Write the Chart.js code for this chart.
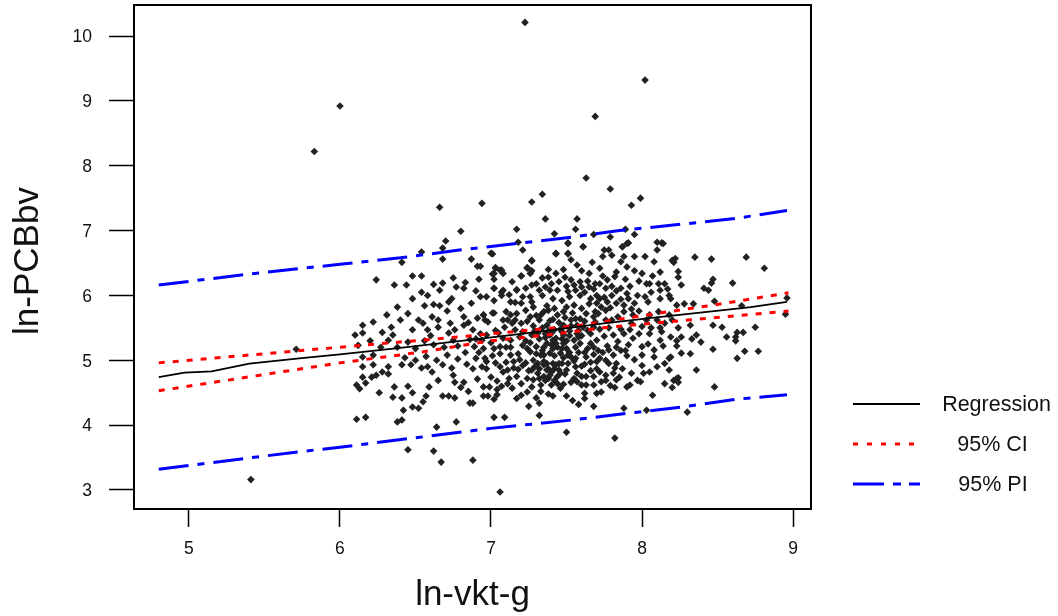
<!DOCTYPE html>
<html>
<head>
<meta charset="utf-8">
<style>
  html, body { margin: 0; padding: 0; background: #fff; }
</style>
<script src="https://cdn.jsdelivr.net/npm/chart.js@4"></script>
</head>
<body>
<canvas id="plot" width="1058" height="616"></canvas>
<script>
// values
var xTicks = [5, 6, 7, 8, 9];
var yTicks = [3, 4, 5, 6, 7, 8, 9, 10];

var regX = [4.8, 4.97, 5.15, 5.4, 5.73, 6.0, 6.4, 6.73, 7.06, 7.39, 7.72, 8.05, 8.4, 8.72, 8.96];
var regY = [4.74, 4.81, 4.83, 4.95, 5.03, 5.09, 5.19, 5.28, 5.37, 5.46, 5.56, 5.65, 5.74, 5.82, 5.9];

var ciUpperX = [4.8, 6.09, 6.64, 7.1, 7.59, 8.12, 8.47, 8.97];
var ciUpperY = [4.96, 5.22, 5.33, 5.43, 5.54, 5.73, 5.85, 6.04];
var ciLowerX = [4.8, 6.0, 6.55, 7.0, 7.37, 7.74, 8.3, 8.97];
var ciLowerY = [4.53, 4.96, 5.13, 5.3, 5.39, 5.5, 5.62, 5.76];

var piUpperX = [4.8, 5.4, 6.0, 6.4, 6.79, 7.54, 7.85, 8.27, 8.63, 8.96];
var piUpperY = [6.16, 6.33, 6.48, 6.58, 6.7, 6.9, 7.0, 7.1, 7.19, 7.31];
var piLowerX = [4.8, 5.73, 6.0, 7.0, 7.54, 7.97, 8.3, 8.63, 8.96];
var piLowerY = [3.32, 3.59, 3.66, 3.95, 4.08, 4.2, 4.29, 4.4, 4.47];

var legendLabels = ['Regression', '95% CI', '95% PI'];
var yAxisTitle = 'ln-PCBbv';

// outliers and the edge of the cloud, one by one
var edgePoints = [
  [7.225,10.21],[8.02,9.32],[6.0,8.92],[5.83,8.22],[7.69,8.76],[7.63,7.81],[7.79,7.64],[7.99,7.5],[7.93,7.39],
  [5.41,3.16],[7.06,2.97],[6.88,3.46],[6.67,3.43],[6.62,3.6],[6.45,3.62],[7.5,3.89],[7.82,3.8],[5.71,5.17],
  [6.66,7.36],[6.94,7.42],[6.8,6.99],[6.7,6.84],[6.68,6.73],[6.68,6.56],[6.54,6.67],[6.41,6.51],[6.24,6.24],
  [6.36,6.16],[6.44,6.16],[6.48,6.3],[6.54,6.3],[6.87,6.56],[6.91,6.45],[7.01,6.64],[7.17,7.02],[7.27,7.44],
  [7.34,7.56],[7.36,7.18],[7.18,6.82],[7.42,6.95],[7.57,7.18],[7.51,6.8],[7.43,6.64],[7.51,6.64],[7.27,6.53],
  [7.24,6.42],[7.2,6.3],[7.03,6.42],[7.01,6.33],[7.07,6.39],[6.83,6.2],[6.68,6.19],[6.77,6.13],[6.66,6.08],
  [6.58,6.0],[6.82,6.11],[7.02,6.11],[7.07,6.05],[7.17,6.08],[6.38,5.82],[6.56,5.84],[6.66,5.84],[6.15,5.54],
  [6.22,5.59],[6.1,5.39],[6.15,5.42],[6.34,5.51],[6.4,5.62],[6.35,5.39],[6.48,5.47],[6.55,5.57],[6.58,5.47],
  [6.61,5.67],[6.65,5.62],[6.65,5.51],[6.73,5.57],[6.76,5.47],[6.82,5.67],[6.82,5.54],[6.91,5.65],[6.95,5.7],
  [7.01,5.73],[6.32,5.31],[6.12,5.23],[6.15,5.05],[6.22,5.08],[6.15,4.9],[6.22,4.93],[6.32,4.9],[6.41,4.93],
  [6.47,4.93],[6.5,5.0],[6.64,5.0],[6.54,4.88],[6.61,4.82],[6.58,4.9],[6.74,4.88],[6.75,4.77],[6.65,4.69],
  [6.76,4.66],[6.82,4.66],[6.15,4.74],[6.21,4.74],[6.24,4.77],[6.28,4.82],[6.32,4.79],[6.11,4.62],[6.13,4.56],
  [6.17,4.65],[6.26,4.5],[6.36,4.59],[6.35,4.43],[6.41,4.42],[6.45,4.6],[6.48,4.5],[6.59,4.59],[6.57,4.45],
  [6.55,4.36],[6.68,4.45],[6.72,4.45],[6.76,4.42],[6.42,4.23],[6.48,4.28],[6.52,4.26],[6.86,4.34],[6.88,4.34],
  [6.11,4.09],[6.17,4.12],[6.38,4.05],[6.41,4.08],[6.77,4.05],[6.64,3.97],
  [7.56,7.02],[7.68,6.94],[7.79,6.9],[7.89,7.02],[7.95,6.94],[7.61,6.75],[7.9,6.8],[7.87,6.75],[7.75,6.7],
  [8.1,6.82],[8.14,6.8],[8.22,6.57],[8.21,6.51],
  [8.35,6.59],[8.46,6.56],[8.69,6.59],[8.81,6.42],[8.6,6.19],[8.47,6.25],[8.46,6.19],[8.41,6.11],[8.44,6.08],
  [8.26,6.16],[8.24,6.37],[8.24,6.28],[8.48,5.91],[8.28,5.87],[8.34,5.87],[8.96,5.96],[8.66,5.84],
  [8.95,5.71],[8.75,5.51],[8.53,5.51],[8.47,5.54],[8.32,5.54],[8.67,5.43],[8.63,5.43],[8.56,5.36],[8.62,5.36],
  [8.62,5.3],[8.36,5.39],[8.33,5.33],[8.39,5.28],[8.26,5.36],[8.47,5.17],[8.68,5.14],
  [8.77,5.14],[8.63,5.03],[8.26,5.11],[8.32,5.1],[8.23,5.22],
  [8.36,4.85],[8.24,4.73],[8.21,4.69],[8.24,4.66],[8.48,4.59],[8.3,4.2]
];

// left of the thick part
var leftPoints = [
  [6.86,5.32],[6.89,5.21],[6.92,5.12],[6.9,5.03],[6.88,4.87],[6.93,5.41],[6.9,5.33],[6.88,5.47],[6.85,5.58],
  [6.87,5.88],[6.8,5.8],[6.74,5.95],[6.71,5.76],[6.78,5.22],[6.83,5.12],[6.71,5.08],[6.78,5.02],[6.84,4.94],
  [6.8,4.58],[6.91,4.71],[6.85,4.52],[6.93,5.98],[6.9,6.07],[6.92,6.25],[6.75,6.27],[6.62,6.17],[6.54,6.05],
  [6.48,5.95],[6.72,5.9],[6.62,5.86],[6.28,5.43],[6.31,5.7],[6.45,5.72],[6.52,5.62],[6.6,5.38],[6.72,5.42],
  [6.68,4.93],[6.57,5.06],[6.43,5.04],[6.5,5.18],[6.2,5.3],[6.27,5.2],[6.38,5.2],[6.45,5.28],[6.56,5.3],
  [6.62,5.24],[6.69,5.2],[6.75,5.31]
];

// upper half of the thick part, x 6.9 to 8.25
var upperPoints = [
  [7.0,6.65],[7.21,6.7],[7.43,6.65],[7.51,6.81],[7.51,6.65],[7.61,6.75],[7.57,6.47],[7.53,6.55],[7.67,6.51],
  [7.74,6.6],[7.78,6.7],[7.8,6.62],[7.87,6.75],[7.91,6.81],[7.88,6.6],[7.86,6.52],[7.95,6.6],[8.02,6.6],
  [8.08,6.52],[8.13,6.81],[8.1,6.7],[8.2,6.54],[7.27,6.54],[7.24,6.43],[7.27,6.38],[7.26,6.34],[7.2,6.3],
  [7.03,6.43],[7.06,6.39],[7.08,6.34],[7.02,6.34],[7.02,6.25],[7.43,6.34],[7.38,6.28],[7.65,6.34],[7.69,6.18],
  [7.77,6.24],[7.83,6.36],[7.82,6.29],[7.89,6.25],[7.95,6.38],[8.0,6.34],[8.07,6.3],[6.93,6.45],[7.49,6.28],
  [7.53,6.24],[7.59,6.21],[7.4,6.18],[7.3,6.18],[7.27,6.16],[7.32,6.08],[7.17,6.09],[7.02,6.11],[7.08,6.08],
  [7.07,6.0],[6.97,5.98],[7.02,5.92],[7.13,5.9],[7.16,5.89],[7.21,5.98],[7.26,5.98],[7.34,6.0],[7.39,6.08],
  [7.44,6.08],[7.41,5.95],[7.51,6.06],[7.56,6.08],[7.6,6.13],[7.65,6.13],[7.72,6.18],[7.76,6.11],[7.7,6.0],
  [7.66,5.95],[7.59,6.0],[7.52,5.98],[7.86,6.11],[7.8,6.0],[7.9,6.03],[8.03,6.18],[8.05,6.18],[8.11,6.18],
  [8.15,6.18],[8.12,6.08],[8.18,6.0],[8.12,5.95],[7.97,6.0],[7.91,5.95],[7.83,5.88],[8.04,5.9],[7.95,5.88],
  [7.77,5.9],[7.73,5.82],[7.7,5.88],[7.76,5.77],[7.69,5.75],[7.63,5.72],[7.55,5.85],[7.5,5.82],[7.48,5.75],
  [7.38,5.77],[7.35,5.75],[7.28,5.82],[7.23,5.77],[7.17,5.72],[7.1,5.75],[7.02,5.73],[6.95,5.7],[7.11,5.62],
  [7.14,5.57],[7.2,5.57],[7.26,5.67],[7.32,5.62],[7.44,5.7],[7.53,5.62],[7.59,5.64],[7.68,5.67],[7.57,5.54],
  [7.48,5.54],[7.37,5.54],[7.28,5.53],[7.09,5.51],[6.96,5.62],[6.98,5.59],[8.11,5.75],[8.2,5.62],[8.05,5.7],
  [7.94,5.7],[7.84,5.67],[7.93,5.57],[7.88,5.75],[7.8,5.62],[7.76,5.62],[8.23,5.85],[8.19,5.95],[7.69,5.59],
  [7.68,5.51],[7.61,5.51],[8.15,5.57]
];

// lower half of the thick part
var lowerPoints = [
  [6.95,5.18],[7.02,5.18],[7.06,5.21],[7.13,5.08],[7.15,4.98],[7.23,4.96],[6.96,5.03],[7.03,4.96],[6.94,4.9],
  [6.97,4.87],[7.08,4.82],[7.11,4.85],[7.18,4.86],[7.17,4.75],[7.24,4.72],[7.2,4.64],[7.11,4.64],[7.04,4.68],
  [6.95,4.59],[6.99,4.59],[7.04,4.55],[7.14,4.57],[7.27,4.59],[7.24,4.51],[7.2,4.46],[7.17,4.41],[7.04,4.47],
  [7.02,4.4],[6.95,4.45],[6.98,4.45],[7.25,4.29],[7.32,4.34],[7.32,4.15],[7.02,4.12],[7.09,4.12],[7.38,4.48],
  [7.46,4.57],[7.54,4.38],[7.58,4.32],[7.68,4.29],[7.62,4.49],[7.62,4.41],[7.7,4.49],[7.73,4.51],[7.82,4.58],
  [7.9,4.59],[7.97,4.69],[7.99,4.67],[8.07,4.46],[7.88,4.26],[8.03,4.23],[7.57,4.67],[7.63,4.75],[7.68,4.75],
  [7.63,4.62],[7.68,4.62],[7.73,4.67],[7.76,4.69],[7.76,4.77],[7.7,4.87],[7.81,4.8],[7.87,4.87],[7.78,4.95],
  [7.83,4.95],[7.7,4.98],[7.72,5.03],[7.71,5.15],[7.78,5.16],[7.81,5.08],[7.86,5.15],[7.89,5.15],[8.0,5.08],
  [8.08,5.16],[8.08,5.05],[8.18,5.03],[8.19,5.05],[8.15,4.95],[8.18,4.85],[8.05,4.82],[8.01,4.8],[8.15,4.64],
  [8.2,4.58],[8.23,4.72],[7.92,4.62],[7.37,5.26],[7.41,5.31],[7.3,5.21],[7.26,5.13],[7.21,5.23],[7.31,4.95],
  [7.35,4.93],[7.38,4.87],[7.41,4.95],[7.45,4.85],[7.47,4.95],[7.31,4.8],[7.35,4.75],[7.38,4.72],[7.42,4.69],
  [7.4,4.62],[7.46,4.8],[7.51,4.95],[7.56,4.9],[7.57,4.8],[7.51,5.08],[7.46,5.11],[7.39,5.11],[7.35,5.08],
  [7.48,5.26],[7.55,5.31],[7.59,5.26],[7.66,5.26],[7.7,5.31],[7.81,5.39],[7.88,5.41],[7.94,5.34],[7.98,5.41],
  [8.05,5.41],[8.19,5.36],[8.13,5.44],[7.66,5.41],[7.57,5.41],[7.48,5.39],[7.39,5.39],[7.13,5.31],[7.08,5.34],
  [7.19,5.36],[6.97,5.39],[6.94,5.31],
  [7.32,4.87],[7.4,4.82],[7.37,4.95],[7.42,4.87],[7.32,4.72],[7.36,4.69],[7.45,4.95],[7.39,4.77],[7.37,4.85],
  [7.42,5.47],[7.36,5.35],[7.31,5.42],[7.47,5.33],[7.44,5.2],[7.52,5.45],[7.27,5.39],[7.56,5.2],[7.33,5.08],
  [7.5,5.18],[7.6,5.38],[7.62,5.12],[7.24,5.18],[7.16,5.47],[7.03,5.46],[7.1,5.2],[7.18,5.1],[7.4,5.42],
  [7.34,5.5],[7.45,5.58]
];

// marks hidden in the merged core, estimated
var corePoints = [
  [7.63,5.05],[7.66,4.97],[7.6,4.91],[7.74,5.12],[7.77,5.22],[7.83,5.2],[7.75,5.37],[7.84,5.29],[7.91,5.24],
  [7.64,5.18],[7.68,5.09],[7.58,5.12],[7.53,5.05],[7.55,4.99],[7.6,4.75],[7.55,4.72],[7.5,4.85],[7.53,4.66],
  [7.48,4.63],[7.44,4.75],[7.33,4.62],[7.28,4.7],[7.25,4.84],[7.21,4.92],[7.28,5.0],[7.34,5.15],[7.42,5.07],
  [7.48,5.04],[7.5,5.3],[7.43,5.26],[7.38,5.45],[7.32,5.33],[7.26,5.27],[7.21,5.44],[7.24,5.6],[7.3,5.69],
  [7.37,5.84],[7.42,5.8],[7.47,5.92],[7.54,5.73],[7.6,5.8],[7.65,5.87],[7.71,5.72],[7.75,5.97],[7.83,6.07],
  [7.88,5.85],[7.93,5.79],[7.98,5.76],[8.03,5.62],[8.1,5.62],[8.06,5.5],[8.12,5.31],[8.0,5.21],[7.95,5.01],
  [7.9,5.07],[7.93,4.8],[7.85,4.74],[7.79,4.61],[7.72,4.82],[7.66,4.84],[7.62,4.94],[7.56,5.03],[7.47,5.18],
  [7.41,5.63],[7.33,5.7],[7.27,5.9],[7.2,5.88],[7.13,5.7],[7.08,5.62],[7.05,5.42],[7.0,5.27],[7.06,5.1],
  [7.1,4.97],[7.15,4.88],[7.01,5.07],[7.06,4.9],[7.13,5.2],[7.19,5.01],[7.27,4.85],[7.23,5.3],[7.16,5.62],
  [7.36,6.13],[7.45,6.21],[7.55,6.16],[7.62,6.05],[7.68,6.1],[7.74,6.3],[7.8,6.14],[7.92,6.14],[7.98,6.22],
  [8.06,6.05],[8.17,6.1],[8.02,5.98],[7.86,5.94],[7.79,5.81],[7.72,5.95],[7.64,6.22],[7.5,6.14],[7.34,6.27],
  [7.14,6.21],[7.12,6.01],[7.23,6.11],[7.38,6.4],[7.48,6.4],[7.6,6.38],[7.72,6.42],[7.9,6.44],[8.12,6.36],
  [8.0,4.92],[8.1,4.9],[8.04,5.25],[8.14,5.22],[7.82,4.88],[7.76,5.0],[7.68,5.2],[7.58,5.36],[7.64,5.46],
  [7.72,5.48],[7.78,5.5],[7.86,5.48],[7.92,5.47],[8.0,5.52],[8.12,5.5],[8.18,5.7],[8.24,5.5],[8.23,5.3],
  [7.46,5.48],[7.39,5.61],[7.49,5.66],[7.53,5.53],[7.3,5.1],[7.35,5.2],[7.43,5.34],[7.41,5.18],[7.52,5.12],
  [7.58,5.46],[7.56,5.64],[7.62,5.6],[7.49,4.79],[7.43,4.93],[7.35,4.98],[7.29,4.9],[7.44,4.64],[7.33,4.52],
  [7.12,4.72],[7.3,4.42],[7.41,4.45],[7.5,4.45],[7.6,4.62],[7.83,4.7],[7.07,4.6],[7.0,4.74],[6.97,4.98],
  [7.52,5.38],[7.47,5.44],[7.36,5.41],[7.29,5.45],[7.4,5.24]
];

var scatterData = edgePoints.concat(leftPoints, upperPoints, lowerPoints, corePoints).map(function (p) {
  return { x: p[0], y: p[1] };
});

function zipLine(xs, ys) {
  return xs.map(function (x, i) { return { x: x, y: ys[i] }; });
}

var solid = [];
var ciDash = [6, 8];
var piDash = [30, 9, 7, 9];

function lineSet(label, data, color, width, dash) {
  return {
    type: 'line', label: label, data: data, borderColor: color, borderWidth: width,
    borderDash: dash, pointRadius: 0, fill: false, tension: 0, order: 0
  };
}

// frame round the plot, y title and the hand placed legend on the right
var framePlugin = {
  id: 'frameAndLegend',
  afterDraw: function (chart) {
    var ctx = chart.ctx, a = chart.chartArea;
    ctx.save();
    ctx.strokeStyle = '#000';
    ctx.lineWidth = 2;
    ctx.strokeRect(a.left, a.top, a.right - a.left, a.bottom - a.top);

    ctx.save();
    ctx.translate(28, 261);
    ctx.rotate(-Math.PI / 2);
    ctx.font = '35px "Liberation Sans"';
    ctx.fillStyle = '#111';
    ctx.textAlign = 'center';
    ctx.textBaseline = 'middle';
    ctx.fillText(yAxisTitle, 0, 0);
    ctx.restore();

    var rows = [
      { y: 404, tx: 996.5, end: 920, color: '#000', width: 1.8, dash: solid },
      { y: 444, tx: 992.5, end: 914, color: '#ff0000', width: 3, dash: [5, 9] },
      { y: 484, tx: 993, end: 920, color: '#0000ff', width: 3, dash: [31, 9, 8, 8, 11] }
    ];
    ctx.font = '21.5px "Liberation Sans"';
    ctx.textAlign = 'center';
    ctx.textBaseline = 'middle';
    rows.forEach(function (r, i) {
      ctx.beginPath();
      ctx.setLineDash(r.dash);
      ctx.strokeStyle = r.color;
      ctx.lineWidth = r.width;
      ctx.moveTo(853, r.y);
      ctx.lineTo(r.end, r.y);
      ctx.stroke();
      ctx.setLineDash([]);
      ctx.fillStyle = '#111';
      ctx.fillText(legendLabels[i], r.tx, r.y + 1);
    });
    ctx.restore();
  }
};

new Chart(document.getElementById('plot').getContext('2d'), {
  type: 'scatter',
  data: {
    datasets: [
      lineSet('Regression', zipLine(regX, regY), '#000', 1.8, solid),
      lineSet('95% CI upper', zipLine(ciUpperX, ciUpperY), '#ff0000', 3, ciDash),
      lineSet('95% CI lower', zipLine(ciLowerX, ciLowerY), '#ff0000', 3, ciDash),
      lineSet('95% PI upper', zipLine(piUpperX, piUpperY), '#0000ff', 3, piDash),
      lineSet('95% PI lower', zipLine(piLowerX, piLowerY), '#0000ff', 3, piDash),
      {
        label: 'points', data: scatterData, pointStyle: 'rectRot', pointRadius: 3.8,
        pointBackgroundColor: '#222', pointBorderWidth: 0, showLine: false, order: 1
      }
    ]
  },
  options: {
    responsive: false,
    animation: false,
    layout: { padding: { left: 0, right: 247, top: 5, bottom: 0 } },
    plugins: { legend: { display: false }, tooltip: { enabled: false } },
    scales: {
      x: {
        type: 'linear', min: 4.636, max: 9.119,
        afterFit: function (s) { s.height = 107; s.paddingLeft = 0; s.paddingRight = 0; },
        afterBuildTicks: function (s) { s.ticks = xTicks.map(function (v) { return { value: v }; }); },
        grid: { drawOnChartArea: false, tickLength: 18, tickColor: '#000', tickWidth: 1.5 },
        border: { display: false },
        ticks: { color: '#111', padding: 12, maxRotation: 0, font: { family: 'Liberation Sans', size: 17.5 } },
        title: { display: true, text: 'ln-vkt-g', color: '#111', padding: { top: 15, bottom: 0 }, font: { family: 'Liberation Sans', size: 35 } }
      },
      y: {
        type: 'linear', min: 2.707, max: 10.478,
        afterFit: function (s) { s.width = 134; s.paddingTop = 0; s.paddingBottom = 0; },
        afterBuildTicks: function (s) { s.ticks = yTicks.map(function (v) { return { value: v }; }); },
        grid: { drawOnChartArea: false, tickLength: 25, tickColor: '#000', tickWidth: 1.5 },
        border: { display: false },
        ticks: { color: '#111', padding: 17, labelOffset: 1.5, font: { family: 'Liberation Sans', size: 17.5 } },
        title: { display: false }
      }
    }
  },
  plugins: [framePlugin]
});
</script>
</body>
</html>
